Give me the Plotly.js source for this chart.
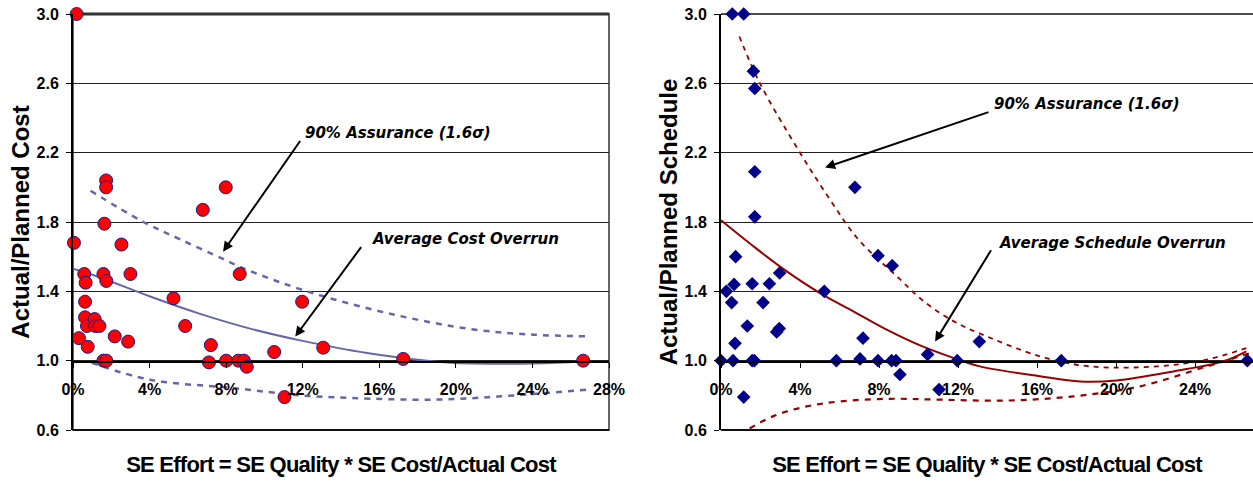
<!DOCTYPE html>
<html>
<head>
<meta charset="utf-8">
<script src="https://cdn.plot.ly/plotly-3.0.1.min.js"></script>
<style>
html,body{margin:0;padding:0;background:#fff;}
#chart{width:1253px;height:481px;}
text.xtitle, text.x2title{letter-spacing:-0.75px;}
</style>
</head>
<body>
<div id="chart"></div>
<script>
// ---------- DATA ----------
// Left chart: cost overrun vs SE effort
const costX = [0.0019, 0.0173, 0.0173, 0.0164, 0.0678, 0.0798, 0.0005, 0.0059, 0.0066, 0.0063, 0.0063, 0.0073, 0.0031, 0.0077, 0.0113, 0.0117, 0.0138, 0.0159, 0.0174, 0.0159, 0.0174, 0.0218, 0.0253, 0.0288, 0.0300, 0.0525, 0.0586, 0.0710, 0.0720, 0.0800, 0.0864, 0.0871, 0.0893, 0.0908, 0.1051, 0.1105, 0.1197, 0.1307, 0.1725, 0.2665];
const costY = [3.00, 2.04, 2.00, 1.79, 1.87, 2.00, 1.68, 1.50, 1.45, 1.34, 1.25, 1.20, 1.13, 1.08, 1.24, 1.20, 1.20, 1.50, 1.46, 1.00, 1.00, 1.14, 1.67, 1.11, 1.50, 1.36, 1.20, 0.99, 1.09, 1.00, 1.00, 1.50, 1.00, 0.965, 1.05, 0.79, 1.34, 1.075, 1.01, 1.00];

const costAvgX = [0, 0.0141, 0.0403, 0.0664, 0.0925, 0.1187, 0.1536, 0.1954, 0.2407, 0.2670];
const costAvgY = [1.53, 1.48, 1.37, 1.27, 1.185, 1.117, 1.044, 0.990, 0.983, 0.996];
const costUpX = [0.0092, 0.0368, 0.0560, 0.0783, 0.0908, 0.1222, 0.1675, 0.2093, 0.2407, 0.2686];
const costUpY = [1.98, 1.80, 1.70, 1.587, 1.525, 1.40, 1.266, 1.18, 1.15, 1.14];
const costLoX = [0.0098, 0.0403, 0.0838, 0.1187, 0.1448, 0.1884, 0.2233, 0.2686];
const costLoY = [0.987, 0.89, 0.842, 0.80, 0.785, 0.775, 0.794, 0.833];

// Right chart: schedule overrun vs SE effort
const schX = [0.0057, 0.0115, 0.0164, 0.0171, 0.0171, 0.0171, 0.0678, 0.0000, 0.0027, 0.0074, 0.0066, 0.0054, 0.0071, 0.0061, 0.0115, 0.0133, 0.0158, 0.0158, 0.0169, 0.0213, 0.0245, 0.0282, 0.0295, 0.0297, 0.0523, 0.0584, 0.0704, 0.0719, 0.0795, 0.0795, 0.0867, 0.0864, 0.0886, 0.0906, 0.1046, 0.1104, 0.1196, 0.1308, 0.1723, 0.2665];
const schY = [3.00, 3.00, 2.67, 2.57, 2.09, 1.83, 2.00, 1.00, 1.40, 1.60, 1.44, 1.335, 1.10, 1.00, 0.79, 1.20, 1.444, 1.00, 1.00, 1.335, 1.444, 1.166, 1.185, 1.506, 1.40, 1.00, 1.01, 1.13, 1.606, 1.00, 1.548, 1.00, 1.00, 0.92, 1.036, 0.833, 1.00, 1.11, 1.00, 1.00];

const schAvgX = [0, 0.0164, 0.0333, 0.0501, 0.0670, 0.0839, 0.1008, 0.1176, 0.1311, 0.1615, 0.1818, 0.2003, 0.2290, 0.2543, 0.2660];
const schAvgY = [1.81, 1.66, 1.515, 1.39, 1.285, 1.179, 1.088, 1.016, 0.967, 0.91, 0.88, 0.886, 0.938, 0.996, 1.054];
const schUpX = [0.0093, 0.0197, 0.0400, 0.0552, 0.0695, 0.0906, 0.1008, 0.1109, 0.1210, 0.1303, 0.1615, 0.1868, 0.2206, 0.2460, 0.2680];
const schUpY = [2.87, 2.60, 2.20, 1.929, 1.70, 1.47, 1.36, 1.275, 1.208, 1.16, 1.025, 0.967, 0.967, 1.006, 1.08];
const schLoX = [0.0093, 0.0265, 0.0434, 0.0603, 0.0856, 0.1109, 0.1447, 0.1784, 0.2122, 0.2460, 0.2680];
const schLoY = [0.573, 0.68, 0.736, 0.765, 0.78, 0.775, 0.77, 0.794, 0.852, 0.967, 1.044];

// Tick labels
const yTickVals = [0.6, 1.0, 1.4, 1.8, 2.2, 2.6, 3.0];
const yTickText = ['0.6', '1.0', '1.4', '1.8', '2.2', '2.6', '3.0'];
const xTickVals = [0, 0.04, 0.08, 0.12, 0.16, 0.20, 0.24, 0.28];
const xTickText = ['0%', '4%', '8%', '12%', '16%', '20%', '24%', '28%'];

// Text
const xTitle = 'SE Effort = SE Quality * SE Cost/Actual Cost';
const yTitleLeft = 'Actual/Planned Cost';
const yTitleRight = 'Actual/Planned Schedule';
const labelAssurance = '90% Assurance (1.6σ)';
const labelCost = 'Average Cost Overrun';
const labelSchedule = 'Average Schedule Overrun';

// ---------- STYLE ----------
const FONT = 'Liberation Sans, Arial, Helvetica, sans-serif';
const ANN_FONT = 'DejaVu Sans, Verdana, sans-serif';
const leftLine = '#6666aa';
const rightLine = '#990000';

const traces = [
  {x: costUpX, y: costUpY, xaxis: 'x', yaxis: 'y', mode: 'lines', line: {color: leftLine, width: 2.5, dash: '6px,6px', shape: 'spline'}, hoverinfo: 'skip'},
  {x: costLoX, y: costLoY, xaxis: 'x', yaxis: 'y', mode: 'lines', line: {color: leftLine, width: 2.5, dash: '6px,6px', shape: 'spline'}, hoverinfo: 'skip'},
  {x: costAvgX, y: costAvgY, xaxis: 'x', yaxis: 'y', mode: 'lines', line: {color: leftLine, width: 2, shape: 'spline'}, hoverinfo: 'skip'},
  {x: costX, y: costY, xaxis: 'x', yaxis: 'y', mode: 'markers', cliponaxis: false,
   marker: {symbol: 'circle', size: 13, color: '#ff0000', line: {color: '#1a1a8c', width: 1}}},

  {x: schUpX, y: schUpY, xaxis: 'x2', yaxis: 'y2', mode: 'lines', line: {color: rightLine, width: 1.8, dash: '5px,5px', shape: 'spline'}, hoverinfo: 'skip'},
  {x: schLoX, y: schLoY, xaxis: 'x2', yaxis: 'y2', mode: 'lines', cliponaxis: false, line: {color: rightLine, width: 2.2, dash: '6px,6px', shape: 'spline'}, hoverinfo: 'skip'},
  {x: schAvgX, y: schAvgY, xaxis: 'x2', yaxis: 'y2', mode: 'lines', line: {color: rightLine, width: 2, shape: 'spline'}, hoverinfo: 'skip'},
  {x: schX, y: schY, xaxis: 'x2', yaxis: 'y2', mode: 'markers', cliponaxis: false,
   marker: {symbol: 'diamond', size: 10.5, color: '#00008b'}}
];

const W = 1253, H = 481;
const yDom = [1 - 430 / H, 1 - 14 / H];
const xAxisPos = 1 - 361 / H;

function xAxis(domain, range) {
  return {
    domain: domain, anchor: 'free', position: xAxisPos, range: range,
    tickmode: 'array', tickvals: xTickVals, ticktext: xTickText,
    showgrid: false, zeroline: false, showline: true, linecolor: '#000', linewidth: 1.5,
    ticks: 'outside', ticklen: 5, tickcolor: '#000', tickwidth: 1,
    ticklabelstandoff: 8,
    tickfont: {family: FONT, size: 16, weight: 'bold', color: '#000'},
    title: {text: xTitle, font: {family: FONT, size: 22, weight: 'bold', color: '#000'}, standoff: 60},
    fixedrange: true
  };
}
function yAxis(anchor, title) {
  return {
    domain: yDom, anchor: anchor, range: [0.6, 3.0],
    tickmode: 'array', tickvals: yTickVals, ticktext: yTickText,
    showgrid: true, gridcolor: '#222', gridwidth: 1, zeroline: false,
    showline: true, linecolor: '#000', linewidth: 2,
    ticks: 'outside', ticklen: 5, tickcolor: '#000',
    ticklabelstandoff: 4,
    tickfont: {family: FONT, size: 16, weight: 'bold', color: '#000'},
    title: {text: title, font: {family: FONT, size: 24, weight: 'bold', color: '#000'}, standoff: 0},
    fixedrange: true
  };
}

function arrow(xr, yr, hx, hy, tx, ty) {
  return {xref: xr, yref: yr, axref: xr, ayref: yr, x: hx, y: hy, ax: tx, ay: ty, text: '',
          showarrow: true, arrowhead: 2, arrowsize: 1, arrowwidth: 2, arrowcolor: '#000'};
}
function label(xr, yr, x, y, text) {
  return {xref: xr, yref: yr, x: x, y: y, text: text, showarrow: false, xanchor: 'left', yanchor: 'middle',
          font: {family: ANN_FONT, size: 15, weight: 'bold', style: 'italic', color: '#000'}};
}

const layout = {
  width: W, height: H,
  margin: {l: 0, r: 0, t: 0, b: 0},
  paper_bgcolor: '#fff', plot_bgcolor: '#fff',
  showlegend: false,
  xaxis: xAxis([73 / W, 609 / W], [0, 0.28]),
  yaxis: yAxis('x', yTitleLeft),
  xaxis2: xAxis([721 / W, 1], [0, (W - 721) / 1975]),
  yaxis2: yAxis('x2', yTitleRight),
  shapes: [
    {type: 'rect', xref: 'x domain', yref: 'y domain', x0: 0, x1: 1, y0: 0, y1: 1, line: {color: '#666', width: 2}, layer: 'below'},
    {type: 'line', xref: 'x domain', yref: 'y domain', x0: 0, x1: 1, y0: 1, y1: 1, line: {color: '#333', width: 3}, layer: 'below'},
    {type: 'line', xref: 'x domain', yref: 'y domain', x0: 0, x1: 1, y0: 0, y1: 0, line: {color: '#111', width: 2}, layer: 'below'},
    {type: 'line', xref: 'x2 domain', yref: 'y2 domain', x0: 0, x1: 1, y0: 0, y1: 0, line: {color: '#111', width: 2}, layer: 'below'},
    {type: 'line', xref: 'x2 domain', yref: 'y2 domain', x0: 0, x1: 1, y0: 1, y1: 1, line: {color: '#111', width: 1.5}, layer: 'below'}
  ],
  annotations: [
    arrow('x', 'y', 0.0784, 1.629, 0.1192, 2.276),
    label('x', 'y', 0.1203, 2.316, labelAssurance),
    arrow('x', 'y', 0.1161, 1.139, 0.1511, 1.664),
    label('x', 'y', 0.1553, 1.704, labelCost),
    arrow('x2', 'y2', 0.0527, 2.114, 0.1362, 2.437),
    label('x2', 'y2', 0.1372, 2.478, labelAssurance),
    arrow('x2', 'y2', 0.1084, 1.110, 0.1372, 1.646),
    label('x2', 'y2', 0.1397, 1.681, labelSchedule)
  ]
};

Plotly.newPlot('chart', traces, layout, {staticPlot: true, displayModeBar: false});
</script>
</body>
</html>
